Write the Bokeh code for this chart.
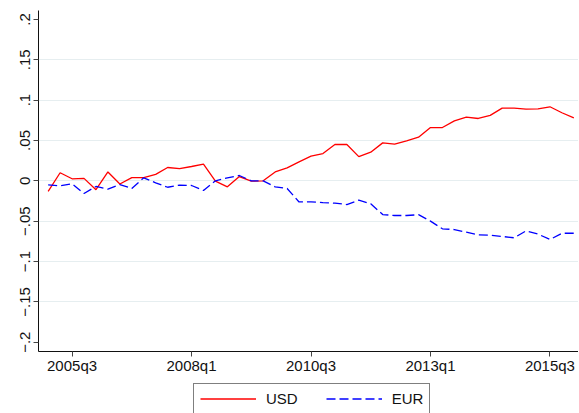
from bokeh.plotting import figure
from bokeh.models import FixedTicker, Legend, LegendItem
from bokeh.layouts import column
from bokeh.embed import file_html
from bokeh.resources import INLINE

# Quarterly categories 2005q1 .. 2016q1
quarters = [f"{y}q{q}" for y in range(2005, 2017) for q in range(1, 5)][:45]

usd = [-0.013, 0.010, 0.0025, 0.003, -0.011, 0.011, -0.004, 0.004, 0.004, 0.008,
       0.0165, 0.015, 0.0177, 0.0206, -0.0005, -0.0075, 0.0053, -0.0005, 0.0, 0.011,
       0.016, 0.0235, 0.0305, 0.0338, 0.045, 0.045, 0.030, 0.0355, 0.047, 0.0454,
       0.0495, 0.054, 0.066, 0.066, 0.0743, 0.0788, 0.0772, 0.081, 0.090, 0.090,
       0.0887, 0.089, 0.0917, 0.0843, 0.078]

eur = [-0.005, -0.0062, -0.0037, -0.0157, -0.007, -0.0104, -0.0046, -0.0095, 0.0037, -0.0025,
       -0.008, -0.0054, -0.0058, -0.012, 0.0, 0.0037, 0.0066, 0.0, 0.0, -0.0075,
       -0.0095, -0.0262, -0.026, -0.027, -0.0277, -0.0294, -0.024, -0.0285, -0.0418, -0.043,
       -0.043, -0.042, -0.050, -0.0595, -0.0604, -0.0637, -0.067, -0.0674, -0.069, -0.0706,
       -0.062, -0.066, -0.0727, -0.065, -0.065]

x_tick_labels = ["2005q3", "2008q1", "2010q3", "2013q1", "2015q3"]
y_ticks = [-0.2, -0.15, -0.1, -0.05, 0.0, 0.05, 0.1, 0.15, 0.2]
y_tick_labels = ["\u2212.2", "\u2212.15", "\u2212.1", "\u2212.05", "0", ".05", ".1", ".15", ".2"]
series_names = ["USD", "EUR"]

x = list(range(len(quarters)))
FONT = "Liberation Sans"
RED, BLUE = "#FF0000", "#0000FF"
DASH = "9 4"

p = figure(frame_width=540, frame_height=341, output_backend="svg", toolbar_location=None,
           x_range=(-0.81, 44.39), y_range=(-0.2115, 0.211),
           min_border_left=38, min_border_right=0, min_border_top=10, min_border_bottom=0)
p.outline_line_color = None
p.background_fill_color = "white"
p.border_fill_color = "white"

p.line(x, usd, line_color=RED, line_width=1.3)
p.line(x, eur, line_color=BLUE, line_width=1.3, line_dash=DASH)

# x axis
xt = [quarters.index(l) for l in x_tick_labels]
p.xaxis.ticker = FixedTicker(ticks=xt)
p.xaxis.major_label_overrides = {t: l for t, l in zip(xt, x_tick_labels)}
# y axis
p.yaxis.ticker = FixedTicker(ticks=y_ticks)
p.yaxis.major_label_overrides = {t: l for t, l in zip(y_ticks, y_tick_labels)}
p.yaxis.major_label_orientation = "vertical"

for ax in (p.xaxis, p.yaxis):
    ax.minor_tick_line_color = None
    ax.major_tick_out = 5
    ax.major_tick_in = 0
    ax.major_tick_line_color = "#444444"
    ax.axis_line_color = "#111111"
    ax.axis_line_width = 1
    ax.major_label_text_font = FONT
    ax.major_label_text_font_size = "15px"
    ax.major_label_text_color = "#111111"
p.xaxis.major_label_standoff = 0
p.yaxis.major_label_standoff = 3

p.xgrid.visible = False
p.ygrid.ticker = FixedTicker(ticks=y_ticks[1:-1])
p.ygrid.grid_line_color = "#E6EEF0"
p.ygrid.grid_line_width = 1

# Legend strip below the chart
p2 = figure(frame_width=540, frame_height=39, output_backend="svg", toolbar_location=None,
            x_range=p.x_range, y_range=p.y_range,
            min_border_left=38, min_border_right=0, min_border_top=0, min_border_bottom=0,
            x_axis_location=None, y_axis_location=None)
p2.outline_line_color = None
p2.grid.visible = False
p2.background_fill_color = "white"
p2.border_fill_color = "white"
l_usd = p2.line(x, usd, line_color=RED, line_width=1.3, visible=False)
l_eur = p2.line(x, eur, line_color=BLUE, line_width=1.3, line_dash=DASH, visible=False)

legend = Legend(items=[LegendItem(label=series_names[0], renderers=[l_usd]),
                       LegendItem(label=series_names[1], renderers=[l_eur])],
                orientation="horizontal", location=(155, 1),
                border_line_color="black", border_line_width=1,
                background_fill_color="white", background_fill_alpha=1,
                label_text_font=FONT, label_text_font_size="15px", label_text_color="#111111",
                glyph_width=56, glyph_height=17, label_height=17, label_standoff=10,
                spacing=28, padding=6, margin=0)
p2.add_layout(legend)

open("out.html", "w").write(file_html(column(p, p2), INLINE))
